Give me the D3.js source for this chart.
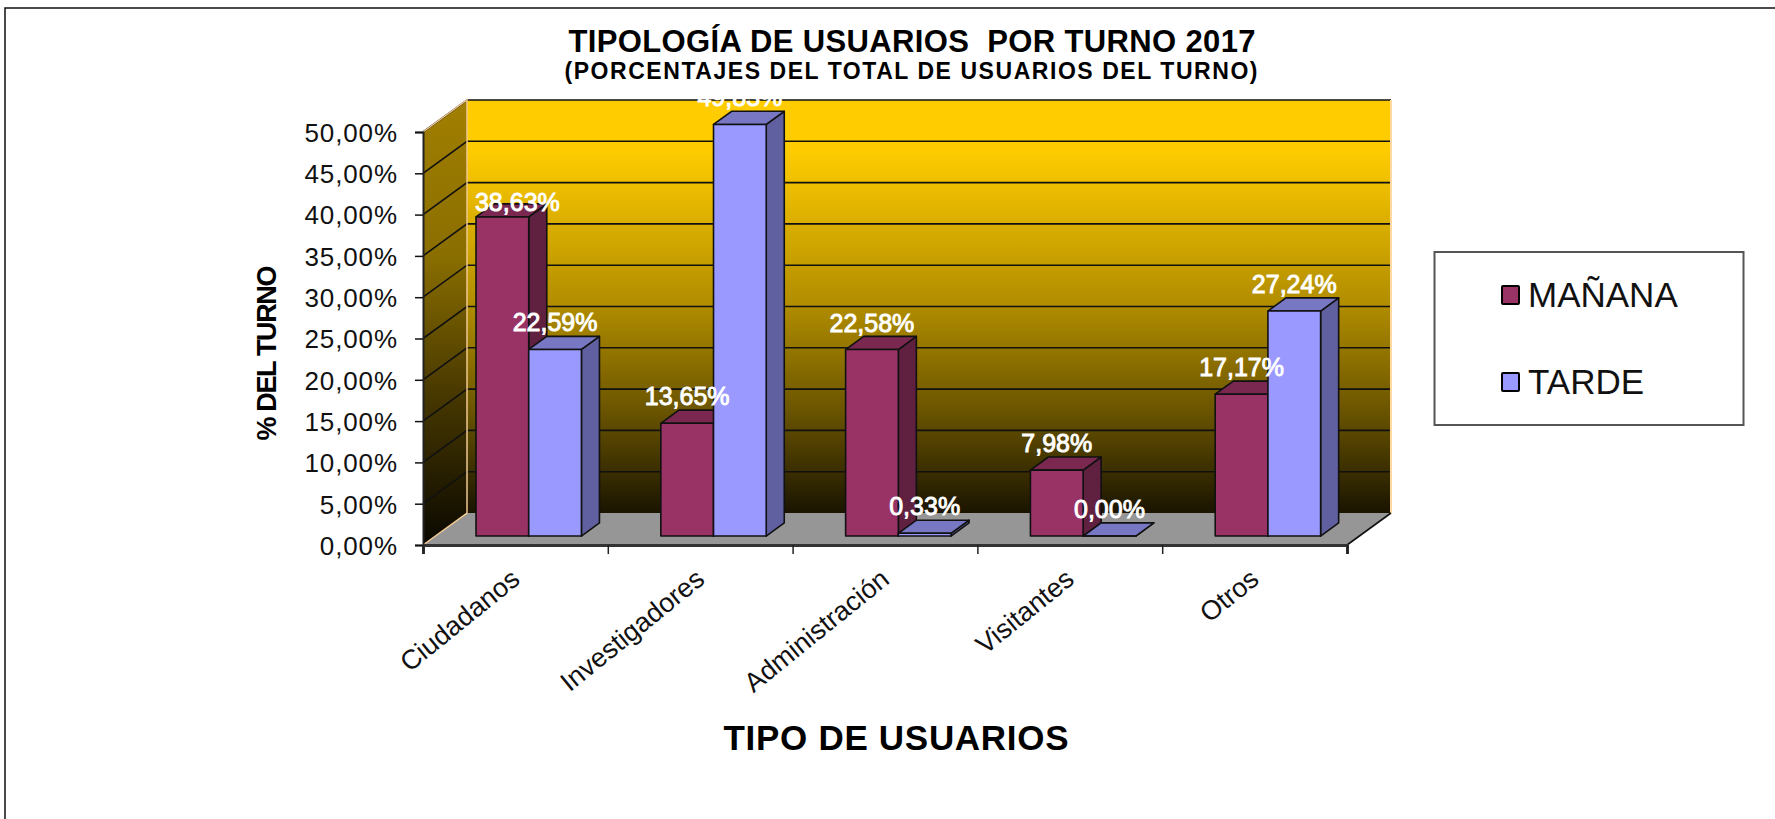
<!DOCTYPE html>
<html>
<head>
<meta charset="utf-8">
<script src="https://cdn.jsdelivr.net/npm/d3@7"></script>
<style>
    html, body { margin: 0; padding: 0; background: #fff; }
    svg { display: block; }
    text { font-family: "Liberation Sans", Arial, sans-serif; }
</style>
</head>
<body>
<div id="chart"></div>
<script>
const categories = ["Ciudadanos", "Investigadores", "Administración", "Visitantes", "Otros"];
const seriesNames = ["MAÑANA", "TARDE"];
const manana = [38.63, 13.65, 22.58, 7.98, 17.17];
const tarde = [22.59, 49.83, 0.33, 0.00, 27.24];
const yTicks = [0, 5, 10, 15, 20, 25, 30, 35, 40, 45, 50];

const frontColors = ["#993366", "#9999ff"];
const sideColors = ["#602040", "#6060a0"];
const topColors = ["#7a2850", "#7777c4"];

const W = 1775, H = 819;
const plot = { left: 423, right: 1347, top: 132, bottom: 545 };
const depth = { dx: 44, dy: -32 };

const fmtPct = v => v.toFixed(2).replace(".", ",") + "%";

const svg = d3.select("#chart").append("svg")
    .attr("width", W)
    .attr("height", H);

// Frame of the picture, only top and left are visible
svg.append("path")
    .attr("d", `M5,${H}V8H${W}`)
    .attr("fill", "none")
    .attr("stroke", "#111")
    .attr("stroke-width", 1.5);

// Scales
const x = d3.scaleBand().domain(categories).range([plot.left, plot.right]);
const xEdges = d3.scaleLinear().domain([0, categories.length]).range([plot.left, plot.right]);
const y = d3.scaleLinear().domain([0, 50]).range([plot.bottom, plot.top]);
const inner = d3.scaleBand().domain(seriesNames).range([0, 105.4]);
const barOffset = (x.bandwidth() - 105.4) / 2 + 1;

// 3d: z goes from 0 on the front edge of the floor to 1 on the back wall
const px = (xv, z) => xv + z * depth.dx;
const py = (yv, z) => yv + z * depth.dy;
const poly = pts => "M" + pts.map(p => p.join(",")).join("L") + "Z";

const defs = svg.append("defs");
function wallGradient(id, stops) {
    const g = defs.append("linearGradient").attr("id", id)
        .attr("x1", 0).attr("x2", 0).attr("y1", 0).attr("y2", 1);
    stops.forEach(s => g.append("stop").attr("offset", s[0]).attr("stop-color", s[1]));
}
wallGradient("backWall", [[0, "#ffcc00"], [0.12, "#ffcc00"], [0.5, "#b08c00"], [0.75, "#6b5500"], [1, "#1a1400"]]);
wallGradient("sideWall", [[0, "#a17f00"], [0.35, "#8a6e00"], [0.65, "#4a3a00"], [1, "#0a0800"]]);

const y0 = y(0), y50 = y(50);

// Walls and floor
svg.append("path")
    .attr("d", poly([[px(plot.left, 1), py(y50, 1)], [px(plot.right, 1), py(y50, 1)], [px(plot.right, 1), py(y0, 1)], [px(plot.left, 1), py(y0, 1)]]))
    .attr("fill", "url(#backWall)");
svg.append("path")
    .attr("d", poly([[px(plot.left, 0), py(y50, 0)], [px(plot.left, 1), py(y50, 1)], [px(plot.left, 1), py(y0, 1)], [px(plot.left, 0), py(y0, 0)]]))
    .attr("fill", "url(#sideWall)");

// Gridlines on both walls
yTicks.slice(1).forEach(t => {
    svg.append("path")
        .attr("d", `M${px(plot.left, 0)},${py(y(t), 0)}L${px(plot.left, 1)},${py(y(t), 1)}L${px(plot.right, 1)},${py(y(t), 1)}`)
        .attr("fill", "none")
        .attr("stroke", "#111")
        .attr("stroke-width", 1.6);
});

svg.append("path")
    .attr("d", poly([[px(plot.left, 0), y0], [px(plot.left, 1), py(y0, 1)], [px(plot.right, 1), py(y0, 1)], [px(plot.right, 0), y0]]))
    .attr("fill", "#969696");

// Wall edges in tan
svg.append("path")
    .attr("d", `M${px(plot.left, 0)},${py(y50, 0)}L${px(plot.left, 1)},${py(y50, 1)}V${py(y0, 1)}L${px(plot.left, 0)},${y0}`)
    .attr("fill", "none")
    .attr("stroke", "#f0c890")
    .attr("stroke-width", 1.5);
svg.append("path")
    .attr("d", `M${px(plot.right, 1)},${py(y50, 1)}V${py(y0, 1)}`)
    .attr("fill", "none")
    .attr("stroke", "#ffd9a0")
    .attr("stroke-width", 2);
svg.append("path")
    .attr("d", `M${px(plot.right, 0)},${y0}L${px(plot.right, 1)},${py(y0, 1)}`)
    .attr("fill", "none")
    .attr("stroke", "#111")
    .attr("stroke-width", 1.6);

// Axes
const yAxis = svg.append("g")
    .attr("transform", `translate(${plot.left},0)`)
    .call(d3.axisLeft(y).tickValues(yTicks).tickSize(8).tickPadding(17).tickFormat(fmtPct));
yAxis.select(".domain").attr("stroke", "#222").attr("stroke-width", 2);
yAxis.selectAll(".tick line").attr("stroke", "#111").attr("stroke-width", 1.5);
yAxis.selectAll(".tick text")
    .attr("fill", "#111")
    .attr("dy", "0.36em")
    .style("font-family", "'Liberation Sans', Arial, sans-serif")
    .style("font-size", "26px")
    .style("letter-spacing", "0.9px");

const xTickAxis = svg.append("g")
    .attr("transform", `translate(0,${plot.bottom})`)
    .call(d3.axisBottom(xEdges).ticks(categories.length).tickSize(9).tickFormat(""));
xTickAxis.select(".domain").attr("stroke", "#333").attr("stroke-width", 3);
xTickAxis.selectAll(".tick line").attr("stroke", "#222").attr("stroke-width", 1.5);

const xAxis = svg.append("g")
    .attr("transform", `translate(2,${plot.bottom})`)
    .call(d3.axisBottom(x).tickSize(0).tickPadding(0));
xAxis.select(".domain").remove();
xAxis.selectAll(".tick text")
    .attr("fill", "#111")
    .attr("text-anchor", "end")
    .attr("dy", 0)
    .attr("y", 0)
    .attr("transform", "translate(4,37) rotate(-39)")
    .style("font-family", "'Liberation Sans', Arial, sans-serif")
    .style("font-size", "27px");

// Bars, morning first so the afternoon bar sits in front of its side
const barZ = [0.28, 0.69];
const values = [manana, tarde];

const barData = [];
seriesNames.forEach((name, s) => {
    categories.forEach((cat, i) => {
        barData.push({ cat: cat, s: s, name: name, value: values[s][i] });
    });
});
barData.sort((a, b) => categories.indexOf(a.cat) - categories.indexOf(b.cat) || a.s - b.s);

const bars = svg.append("g").selectAll("g")
    .data(barData)
    .enter().append("g")
    .attr("stroke", "#111")
    .attr("stroke-width", 1.6)
    .attr("stroke-linejoin", "round");

const x0Of = d => x(d.cat) + barOffset + inner(d.name);
const x1Of = d => x0Of(d) + inner.bandwidth();

bars.append("path")
    .attr("fill", d => sideColors[d.s])
    .attr("d", d => poly([
        [px(x1Of(d), barZ[0]), py(y(d.value), barZ[0])],
        [px(x1Of(d), barZ[1]), py(y(d.value), barZ[1])],
        [px(x1Of(d), barZ[1]), py(y0, barZ[1])],
        [px(x1Of(d), barZ[0]), py(y0, barZ[0])]
    ]));
bars.append("path")
    .attr("fill", d => topColors[d.s])
    .attr("d", d => poly([
        [px(x0Of(d), barZ[0]), py(y(d.value), barZ[0])],
        [px(x0Of(d), barZ[1]), py(y(d.value), barZ[1])],
        [px(x1Of(d), barZ[1]), py(y(d.value), barZ[1])],
        [px(x1Of(d), barZ[0]), py(y(d.value), barZ[0])]
    ]));
bars.append("path")
    .attr("fill", d => frontColors[d.s])
    .attr("d", d => poly([
        [px(x0Of(d), barZ[0]), py(y(d.value), barZ[0])],
        [px(x1Of(d), barZ[0]), py(y(d.value), barZ[0])],
        [px(x1Of(d), barZ[0]), py(y0, barZ[0])],
        [px(x0Of(d), barZ[0]), py(y0, barZ[0])]
    ]));

// Data labels. The first one was moved by hand in the original
svg.append("g").selectAll("text")
    .data(barData)
    .enter().append("text")
    .attr("x", d => (x0Of(d) + x1Of(d)) / 2 + px(0, barZ[0]) + (d.cat === "Ciudadanos" && d.s === 0 ? 15 : 0))
    .attr("y", d => py(y(d.value), barZ[0]) - (d.cat === "Ciudadanos" && d.s === 0 ? 6 : 18))
    .attr("text-anchor", "middle")
    .attr("fill", "#fff")
    .attr("stroke", "#fff")
    .attr("stroke-width", 0.9)
    .style("font-size", "25px")
    .text(d => fmtPct(d.value));

// Titles
function label(txt, tx, ty, size, weight, len) {
    return svg.append("text")
        .attr("x", tx)
        .attr("y", ty)
        .attr("text-anchor", "middle")
        .attr("fill", "#000")
        .attr("textLength", len)
        .style("font-size", size + "px")
        .style("font-weight", weight)
        .text(txt);
}
label("TIPOLOGÍA DE USUARIOS  POR TURNO 2017", 912, 52, 31, "bold", 687).attr("xml:space", "preserve");
label("(PORCENTAJES DEL TOTAL DE USUARIOS DEL TURNO)", 911, 79, 23, "bold", 693);
label("TIPO DE USUARIOS", 896, 750, 35, "bold", 345);
label("% DEL TURNO", 0, 0, 27, "bold", 175)
    .attr("transform", "translate(276,353) rotate(-90)");

// Legend
svg.append("rect")
    .attr("x", 1434.5)
    .attr("y", 252)
    .attr("width", 309)
    .attr("height", 173)
    .attr("fill", "#fff")
    .attr("stroke", "#555")
    .attr("stroke-width", 2);

const legendY = d3.scalePoint().domain(seriesNames).range([295, 382]);
const legend = svg.append("g").selectAll("g")
    .data(seriesNames)
    .enter().append("g")
    .attr("transform", d => `translate(1502,${legendY(d)})`);
legend.append("rect")
    .attr("y", -9)
    .attr("width", 17)
    .attr("height", 18)
    .attr("rx", 1)
    .attr("fill", (d, i) => frontColors[i])
    .attr("stroke", "#000")
    .attr("stroke-width", 2);
legend.append("text")
    .attr("x", 26)
    .attr("y", 12)
    .attr("fill", "#111")
    .style("font-size", "35px")
    .text(d => d);
</script>
</body>
</html>
